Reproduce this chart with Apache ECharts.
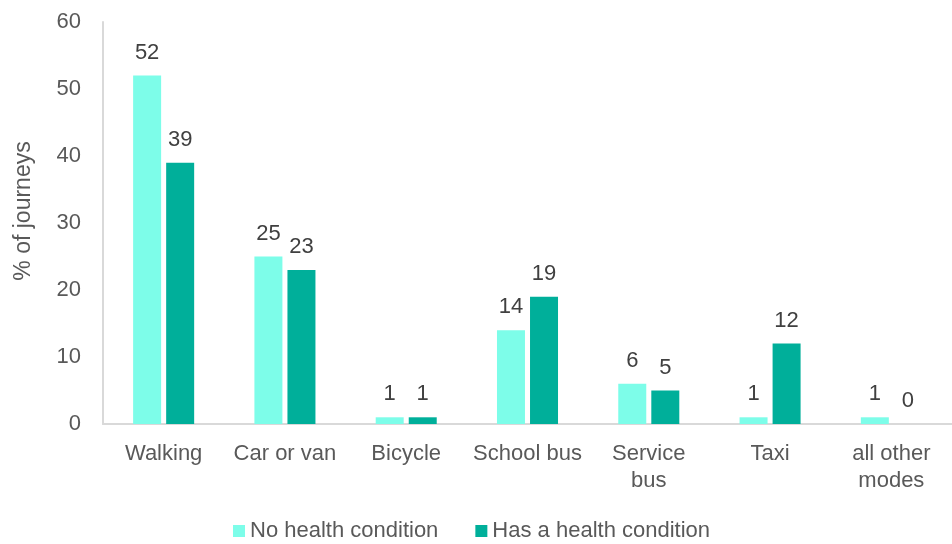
<!DOCTYPE html>
<html>
<head>
<meta charset="utf-8">
<script src="https://cdn.jsdelivr.net/npm/echarts@6/dist/echarts.min.js"></script>
<style>
  html, body { margin: 0; padding: 0; background: #fff; }
  #chart { width: 952px; height: 544px; }
</style>
</head>
<body>
<div id="chart"></div>
<script>
// Journey modes and share of journeys (%)
const categories = ['Walking', 'Car or van', 'Bicycle', 'School bus', 'Service\nbus', 'Taxi', 'all other\nmodes'];
const seriesNames = ['No health condition', 'Has a health condition'];
const noCondition = [52, 25, 1, 14, 6, 1, 1];
const hasCondition = [39, 23, 1, 19, 5, 12, 0];
const yTicks = [0, 10, 20, 30, 40, 50, 60];

const FONT = '"Liberation Sans", Arial, sans-serif';
const chart = echarts.init(document.getElementById('chart'), null, { renderer: 'canvas' });

const labelStyle = {
  show: true,
  position: 'top',
  distance: 12,
  color: '#404040',
  fontSize: 22,
  fontFamily: FONT
};

chart.setOption({
  animation: false,
  textStyle: { fontFamily: FONT },
  grid: { left: 103, right: -10, top: 22, bottom: 120, containLabel: false },
  legend: {
    left: 228,
    top: 515,
    itemWidth: 12,
    itemHeight: 12,
    itemGap: 37,
    icon: 'rect',
    textStyle: { color: '#595959', fontSize: 22, fontFamily: FONT },
    data: seriesNames
  },
  xAxis: {
    type: 'category',
    data: categories,
    axisLine: { show: true, lineStyle: { color: '#d9d9d9', width: 2 } },
    axisTick: { show: false },
    axisLabel: {
      color: '#595959',
      fontSize: 22,
      fontFamily: FONT,
      margin: 16,
      lineHeight: 27,
      interval: 0
    }
  },
  yAxis: {
    type: 'value',
    min: yTicks[0],
    max: yTicks[yTicks.length - 1],
    interval: 10,
    name: '% of journeys',
    nameLocation: 'middle',
    nameGap: 68,
    nameTextStyle: { color: '#595959', fontSize: 23, fontFamily: FONT, padding: [0, 0, 0, 24] },
    axisLine: { show: true, lineStyle: { color: '#d9d9d9', width: 2 } },
    axisTick: { show: false },
    splitLine: { show: false },
    axisLabel: { color: '#595959', fontSize: 22, fontFamily: FONT, margin: 22 }
  },
  series: [
    {
      name: seriesNames[0],
      type: 'bar',
      data: noCondition,
      barWidth: 28,
      barGap: '18%',
      itemStyle: { color: '#7DFDE9' },
      label: labelStyle
    },
    {
      name: seriesNames[1],
      type: 'bar',
      data: hasCondition,
      barWidth: 28,
      itemStyle: { color: '#00AF9A' },
      label: labelStyle
    }
  ]
});
</script>
</body>
</html>
